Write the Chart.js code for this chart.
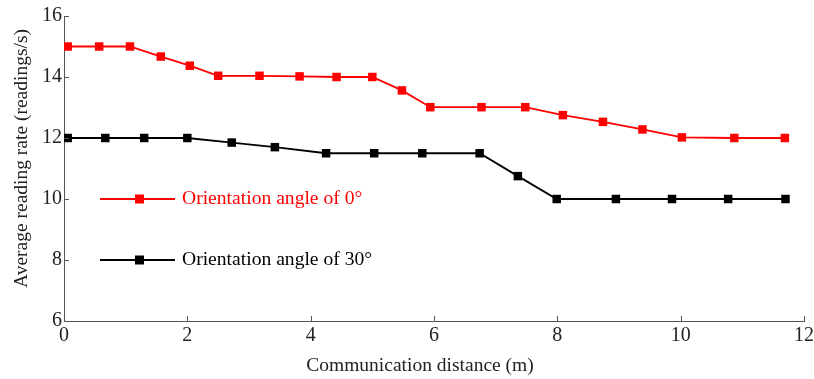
<!DOCTYPE html>
<html>
<head>
<meta charset="utf-8">
<script src="https://cdn.jsdelivr.net/npm/chart.js@4"></script>
<style>
  html, body { margin: 0; padding: 0; background: #fff; }
  #wrap { width: 814px; height: 379px; }
</style>
</head>
<body>
<div id="wrap"><canvas id="graph" width="814" height="379"></canvas></div>
<script>
// distance (m) / reading rate (readings/s)
const distRed = [0.06, 0.57, 1.07, 1.57, 2.04, 2.5, 3.17, 3.82, 4.42, 5.0, 5.48, 5.94, 6.77, 7.48, 8.09, 8.74, 9.38, 10.02, 10.87, 11.69];
const rateRed = [15, 15, 15, 14.67, 14.37, 14.04, 14.04, 14.02, 14, 14, 13.56, 13.01, 13.01, 13.01, 12.75, 12.53, 12.28, 12.02, 12, 12];
const distBlack = [0.06, 0.67, 1.3, 2.0, 2.72, 3.42, 4.25, 5.03, 5.81, 6.74, 7.36, 7.99, 8.95, 9.86, 10.77, 11.7];
const rateBlack = [12, 12, 12, 12, 11.85, 11.7, 11.5, 11.5, 11.5, 11.5, 10.75, 10, 10, 10, 10, 10];
const seriesNames = ['Orientation angle of 0°', 'Orientation angle of 30°'];
const seriesColors = ['#ff0000', '#000000'];
const legendRows = [10, 8];
const xTitle = 'Communication distance (m)';
const yTitle = 'Average reading rate (readings/s)';

const FONT = "'Liberation Serif', 'Times New Roman', serif";
const AXIS = '#555';
const TEXT = '#222';

function toPoints(xs, ys) {
  return xs.map((x, i) => ({ x: x, y: ys[i] }));
}

// ticks point inward from the left and bottom axes
const innerTicks = {
  id: 'innerTicks',
  afterDraw(c) {
    const ctx = c.ctx, a = c.chartArea;
    ctx.save();
    ctx.strokeStyle = AXIS;
    ctx.lineWidth = 1;
    ctx.beginPath();
    c.scales.x.ticks.forEach(t => {
      const px = Math.round(c.scales.x.getPixelForValue(t.value)) + 0.5;
      ctx.moveTo(px, a.bottom);
      ctx.lineTo(px, a.bottom - 5);
    });
    c.scales.y.ticks.forEach(t => {
      const py = Math.round(c.scales.y.getPixelForValue(t.value)) + 0.5;
      ctx.moveTo(a.left, py);
      ctx.lineTo(a.left + 5, py);
    });
    ctx.stroke();
    ctx.restore();
  }
};

// axis titles, placed a bit off-centre like the original figure
const axisTitles = {
  id: 'axisTitles',
  afterDraw(c) {
    const ctx = c.ctx, a = c.chartArea;
    ctx.save();
    ctx.fillStyle = TEXT;
    ctx.font = '19.5px ' + FONT;
    ctx.textAlign = 'center';
    ctx.textBaseline = 'middle';
    ctx.fillText(xTitle, (a.left + a.right) / 2 - 14, 366);
    ctx.translate(22, (a.top + a.bottom) / 2 - 10);
    ctx.rotate(-Math.PI / 2);
    ctx.fillText(yTitle, 0, 0);
    ctx.restore();
  }
};

// legend sits inside the plot, one row per series
const plotLegend = {
  id: 'plotLegend',
  afterDatasetsDraw(c) {
    const ctx = c.ctx, a = c.chartArea;
    ctx.save();
    seriesNames.forEach((name, i) => {
      const y = c.scales.y.getPixelForValue(legendRows[i]);
      ctx.strokeStyle = seriesColors[i];
      ctx.fillStyle = seriesColors[i];
      ctx.lineWidth = 1.8;
      ctx.beginPath();
      ctx.moveTo(a.left + 36, y);
      ctx.lineTo(a.left + 111, y);
      ctx.stroke();
      ctx.fillRect(a.left + 71, y - 4.5, 9, 9);
      ctx.font = '19.6px ' + FONT;
      ctx.textBaseline = 'middle';
      ctx.fillText(name, a.left + 118, y);
    });
    ctx.restore();
  }
};

const ctx = document.getElementById('graph').getContext('2d');
new Chart(ctx, {
  type: 'line',
  data: {
    datasets: [{
      label: seriesNames[0],
      data: toPoints(distRed, rateRed),
      borderColor: seriesColors[0],
      backgroundColor: seriesColors[0],
      borderWidth: 1.8,
      pointStyle: 'rect',
      pointRadius: 6,
      pointBorderWidth: 0,
      tension: 0
    }, {
      label: seriesNames[1],
      data: toPoints(distBlack, rateBlack),
      borderColor: seriesColors[1],
      backgroundColor: seriesColors[1],
      borderWidth: 1.8,
      pointStyle: 'rect',
      pointRadius: 6,
      pointBorderWidth: 0,
      tension: 0
    }]
  },
  options: {
    responsive: false,
    animation: false,
    layout: { padding: { top: 16, right: 10, left: 0, bottom: 0 } },
    plugins: { legend: { display: false }, tooltip: { enabled: false } },
    scales: {
      x: {
        type: 'linear',
        min: 0, max: 12,
        afterFit(s) { s.height = 58; s.paddingLeft = 0; s.paddingRight = 0; },
        ticks: { stepSize: 2, color: TEXT, font: { family: FONT, size: 20 }, padding: 3, maxRotation: 0 },
        grid: { display: true, drawOnChartArea: false, drawTicks: false },
        border: { display: true, color: AXIS, width: 1 }
      },
      y: {
        min: 6, max: 16,
        afterFit(s) { s.width = 64; s.paddingTop = 0; s.paddingBottom = 0; },
        ticks: { stepSize: 2, color: TEXT, font: { family: FONT, size: 20 }, padding: 2 },
        grid: { display: true, drawOnChartArea: false, drawTicks: false },
        border: { display: true, color: AXIS, width: 1 }
      }
    }
  },
  plugins: [innerTicks, axisTitles, plotLegend]
});
</script>
</body>
</html>
